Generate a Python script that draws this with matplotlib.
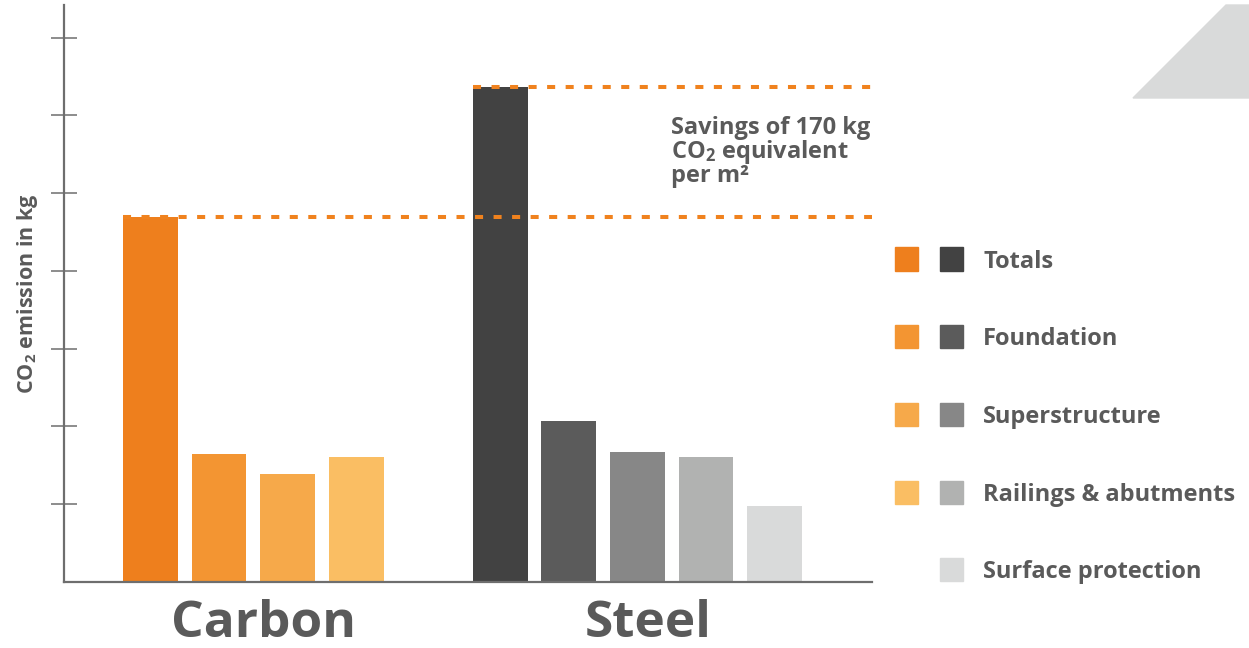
#!/usr/bin/env python3
"""
CO2 emission comparison: carbon vs steel bridge, totals and breakdown.
"""

import matplotlib
matplotlib.use("Agg")
import matplotlib.pyplot as plt
from matplotlib.patches import Rectangle, Polygon

plt.rcParams["font.family"] = ["Open Sans", "DejaVu Sans"]
plt.rcParams["font.weight"] = "bold"
plt.rcParams["mathtext.fontset"] = "custom"
plt.rcParams["mathtext.rm"] = "Open Sans:bold"
plt.rcParams["mathtext.it"] = "Open Sans:bold"
plt.rcParams["mathtext.bf"] = "Open Sans:bold"

# --- Data (arbitrary units, 1 unit = one y tick) ---
groups = ["Carbon", "Steel"]
components = ["Totals", "Foundation", "Superstructure", "Railings & abutments", "Surface protection"]
carbon_values = [4.69, 1.65, 1.39, 1.61]
steel_values = [6.37, 2.07, 1.67, 1.61, 0.98]
carbon_pos = [0, 1, 2, 3]
steel_pos = [5.1, 6.1, 7.1, 8.1, 9.1]

carbon_colors = ["#EE7F1D", "#F39532", "#F6A94A", "#FABE63"]
steel_colors = ["#424242", "#5B5B5B", "#878787", "#B1B2B1", "#D9DADA"]
text_color = "#5A5A5A"
axis_color = "#6E6E6E"
dash_color = "#F0821E"

W, H = 1249, 648
fig = plt.figure(figsize=(W / 100, H / 100), dpi=100)
ax = fig.add_axes([64 / W, (H - 582) / H, (872 - 64) / W, (582 - 5) / H])

bw = 0.8
ax.bar(carbon_pos, carbon_values, width=bw, color=carbon_colors, zorder=2)
ax.bar(steel_pos, steel_values, width=bw, color=steel_colors, zorder=2)

ax.set_xlim(-1.26, 10.52)
ax.set_ylim(0, 7.42)

# dashed reference lines for totals
xr = ax.get_xlim()[1]
ls = (0, (2.0, 2.6))
ax.plot([carbon_pos[0] - bw / 2, xr], [carbon_values[0]] * 2, color=dash_color, lw=2.9, ls=ls,
        zorder=3, clip_on=False)
ax.plot([steel_pos[0] - bw / 2, xr], [steel_values[0]] * 2, color=dash_color, lw=2.9, ls=ls,
        zorder=3, clip_on=False)

# axes styling
for s in ["top", "right"]:
    ax.spines[s].set_visible(False)
for s in ["left", "bottom"]:
    ax.spines[s].set_color(axis_color)
    ax.spines[s].set_linewidth(1.6)
ax.set_yticks(range(1, 8))
ax.set_yticklabels([])
ax.tick_params(axis="y", direction="inout", length=19, width=1.1, color=axis_color)
ax.set_xticks([])

ax.set_ylabel("CO$_2$ emission in kg", fontsize=15.5, color=text_color, fontweight="bold")
ax.yaxis.set_label_coords(-0.030, 0.50)

# group labels
fig.text(263 / W, (H - 637) / H, groups[0], fontsize=37, color=text_color, fontweight="bold",
         ha="center", va="baseline")
fig.text(648 / W, (H - 637) / H, groups[1], fontsize=37, color=text_color, fontweight="bold",
         ha="center", va="baseline")

# savings annotation
fig.text(671 / W, (H - 116) / H, "Savings of 170 kg\nCO$_2$ equivalent\nper m²", fontsize=17,
         color=text_color, fontweight="bold", ha="left", va="top", linespacing=0.9)

# legend (manual)
row_y = [259, 336, 414, 492, 569]
sq = 23
for i, name in enumerate(components):
    yc = row_y[i]
    if i < len(carbon_colors):
        fig.patches.append(Rectangle((895 / W, (H - yc - sq / 2) / H), sq / W, sq / H,
                                     transform=fig.transFigure, color=carbon_colors[i]))
    fig.patches.append(Rectangle((940 / W, (H - yc - sq / 2) / H), sq / W, sq / H,
                                 transform=fig.transFigure, color=steel_colors[i]))
    fig.text(983 / W, (H - yc - 3) / H, name, fontsize=17, color=text_color, fontweight="bold",
             ha="left", va="center")

# decorative corner shape
fig.patches.append(Polygon([(1133 / W, (H - 98) / H), (1226 / W, (H - 5) / H),
                            (1.0, (H - 5) / H), (1.0, (H - 98) / H)],
                           closed=True, transform=fig.transFigure, color="#D9DADA"))

plt.savefig("out.png", dpi=100)
print("Saved: out.png")
plt.close()
